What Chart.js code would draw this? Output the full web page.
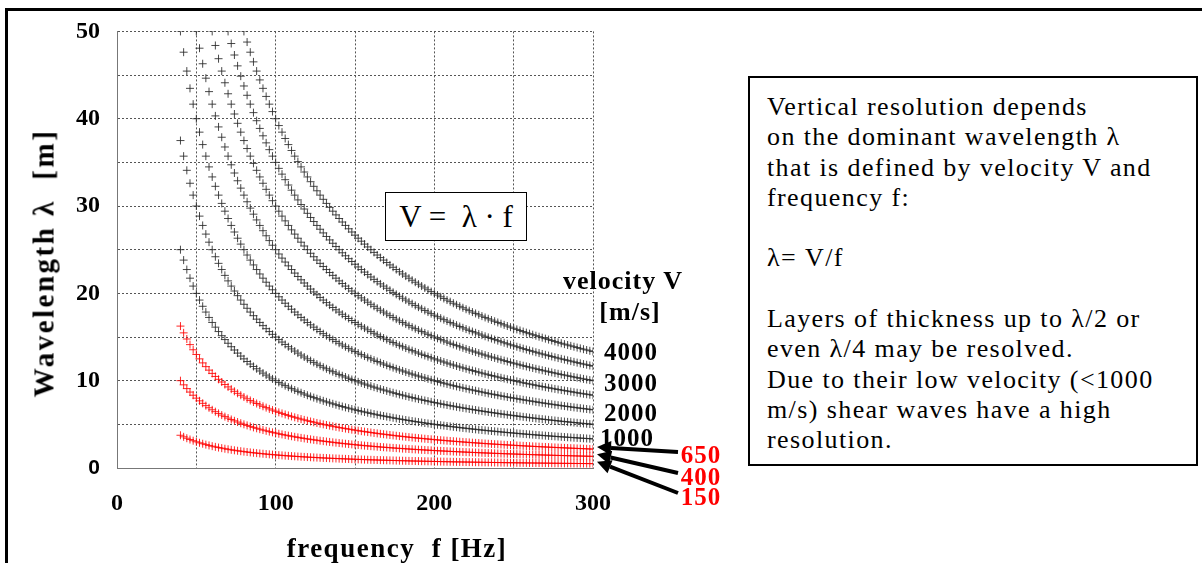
<!DOCTYPE html>
<html>
<head>
<meta charset="utf-8">
<script src="https://cdn.jsdelivr.net/npm/chart.js@4"></script>
<style>
    html, body { margin: 0; padding: 0; background: #fff; overflow: hidden; }
    #wrap { position: relative; width: 1202px; height: 563px; }
    #chart { position: absolute; left: 0; top: 0; }
    .frameTop { position: absolute; left: 5px; top: 8px; width: 1197px; height: 3px; background: #000; }
    .frameLeft { position: absolute; left: 5px; top: 8px; width: 3px; height: 555px; background: #000; }
    .lbl { position: absolute; font-family: "Liberation Serif", "DejaVu Serif", serif; font-weight: bold; white-space: nowrap; transform: translate(-50%, -50%); }
    .red { color: #ff0000; }
    #yTitle { left: 44px; top: 263px; font-size: 29px; letter-spacing: 2.5px; transform: translate(-50%, -50%) rotate(-90deg); }
    #xTitle { left: 397px; top: 548px; font-size: 27px; letter-spacing: 1.5px; }
    .vlab { font-size: 25px; letter-spacing: 1px; }
    .head { font-size: 26px; letter-spacing: 1px; }
    #formula { position: absolute; left: 385px; top: 192px; width: 142px; height: 49px; border: 1px solid #000; box-sizing: border-box;
        font-family: "Liberation Serif", serif; font-size: 31px; line-height: 47px; text-align: center; background: #fff; white-space: pre; }
    #info { position: absolute; left: 748px; top: 76px; width: 450px; height: 390px; border: 2px solid #000; box-sizing: border-box;
        font-family: "Liberation Serif", serif; font-size: 26px; line-height: 30.3px; padding: 14px 0 0 17px; letter-spacing: 1.4px; background: #fff; }
</style>
</head>
<body>
<div id="wrap">
    <canvas id="chart" width="1202" height="563"></canvas>
    <div class="frameTop"></div>
    <div class="frameLeft"></div>
    <div class="lbl" id="yTitle">Wavelength &lambda; &nbsp;[m]</div>
    <div class="lbl" id="xTitle">frequency &nbsp;f [Hz]</div>
    <div id="formula">V =  λ · f</div>
    <div class="lbl head" style="left:623px; top:281px;">velocity V</div>
    <div class="lbl head" style="left:630px; top:312px;">[m/s]</div>
    <div class="lbl vlab" style="left:631px; top:352px;">4000</div>
    <div class="lbl vlab" style="left:631px; top:383px;">3000</div>
    <div class="lbl vlab" style="left:631px; top:413px;">2000</div>
    <div class="lbl vlab" style="left:627px; top:438px;">1000</div>
    <div class="lbl vlab red" style="left:701px; top:455px;">650</div>
    <div class="lbl vlab red" style="left:701px; top:477px;">400</div>
    <div class="lbl vlab red" style="left:701px; top:497px;">150</div>
    <div id="info">Vertical resolution depends<br>on the dominant wavelength λ<br>that is defined by velocity V and<br>frequency f:<br><br>λ= V/f<br><br>Layers of thickness up to λ/2 or<br>even λ/4 may be resolved.<br>Due to their low velocity (&lt;1000<br>m/s) shear waves have a high<br>resolution.</div>
</div>
<script>
// velocities of the plotted curves [m/s]
const velocities = [150, 400, 650, 1000, 1500, 2000, 2500, 3000, 3500, 4000];
const redVelocities = [150, 400, 650];
// sampled frequencies [Hz]
const frequencies = [40, 42, 44, 46, 48, 50, 52, 54, 56, 58, 60, 62, 64, 66, 68, 70, 72, 74, 76, 78,
    80, 82, 84, 86, 88, 90, 92, 94, 96, 98, 100, 102, 104, 106, 108, 110, 112, 114, 116, 118,
    120, 122, 124, 126, 128, 130, 132, 134, 136, 138, 140, 142, 144, 146, 148, 150, 152, 154, 156, 158,
    160, 162, 164, 166, 168, 170, 172, 174, 176, 178, 180, 182, 184, 186, 188, 190, 192, 194, 196, 198,
    200, 202, 204, 206, 208, 210, 212, 214, 216, 218, 220, 222, 224, 226, 228, 230, 232, 234, 236, 238,
    240, 242, 244, 246, 248, 250, 252, 254, 256, 258, 260, 262, 264, 266, 268, 270, 272, 274, 276, 278,
    280, 282, 284, 286, 288, 290, 292, 294, 296, 298, 300];
const xTicks = [0, 100, 200, 300];
const yTicks = [0, 10, 20, 30, 40, 50];
const Y_MAX = 50;

// lambda = V / f, as stated in the chart
const datasets = velocities.map(v => {
    const isRed = redVelocities.includes(v);
    return {
        label: v + ' m/s',
        data: frequencies.map(f => ({ x: f, y: v / f })).filter(p => p.y <= Y_MAX + 1e-9),
        showLine: false,
        pointStyle: 'cross',
        pointRadius: 4,
        pointBorderWidth: 1,
        borderColor: isRed ? 'rgba(255,0,0,0.85)' : 'rgba(40,40,40,0.85)',
        backgroundColor: isRed ? 'rgba(255,0,0,0.85)' : 'rgba(40,40,40,0.85)'
    };
});

const serifBold = { family: '"Liberation Serif", serif', size: 24, weight: 'bold' };
const sansBold = { family: '"Liberation Sans", Arial, sans-serif', size: 21, weight: 'bold' };

const arrowPlugin = {
    id: 'arrows',
    afterDraw(chart) {
        const { ctx, scales } = chart;
        const tails = [[678, 452], [678, 473], [678, 493]];
        const targets = [650, 400, 150];
        ctx.save();
        ctx.strokeStyle = '#000';
        ctx.fillStyle = '#000';
        targets.forEach((v, i) => {
            const tx = scales.x.getPixelForValue(300) + 4;
            const ty = scales.y.getPixelForValue(v / 300) - 2;
            const [sx, sy] = tails[i];
            const ang = Math.atan2(ty - sy, tx - sx);
            const hl = 14, hw = 7;
            const bx = tx - hl * Math.cos(ang), by = ty - hl * Math.sin(ang);
            ctx.lineWidth = 4;
            ctx.beginPath();
            ctx.moveTo(sx, sy);
            ctx.lineTo(bx, by);
            ctx.stroke();
            ctx.beginPath();
            ctx.moveTo(tx, ty);
            ctx.lineTo(bx + hw * Math.sin(ang), by - hw * Math.cos(ang));
            ctx.lineTo(bx - hw * Math.sin(ang), by + hw * Math.cos(ang));
            ctx.closePath();
            ctx.fill();
        });
        ctx.restore();
    }
};

new Chart(document.getElementById('chart'), {
    type: 'scatter',
    data: { datasets },
    options: {
        responsive: false,
        animation: false,
        layout: { padding: { left: 0, top: 28, right: 609, bottom: 0 } },
        plugins: { legend: { display: false }, tooltip: { enabled: false } },
        scales: {
            x: {
                type: 'linear', min: 0, max: 300,
                afterFit: s => { s.height = 95; },
                ticks: {
                    stepSize: 50, padding: 21, color: '#000', font: serifBold, maxRotation: 0,
                    callback: v => xTicks.includes(v) ? String(v) : ''
                },
                grid: { color: '#555', lineWidth: 1, drawTicks: false },
                border: { display: true, color: '#777', width: 1, dash: [2, 2] }
            },
            y: {
                type: 'linear', min: 0, max: Y_MAX,
                afterFit: s => { s.width = 117; },
                ticks: {
                    stepSize: 5, padding: 17, color: '#000',
                    font: c => (c.tick && c.tick.value === 0) ? sansBold : serifBold,
                    callback: v => yTicks.includes(v) ? String(v) : ''
                },
                grid: { color: '#555', lineWidth: 1, drawTicks: false },
                border: { display: true, color: '#777', width: 1, dash: [2, 2] }
            }
        }
    },
    plugins: [arrowPlugin]
});
</script>
</body>
</html>
